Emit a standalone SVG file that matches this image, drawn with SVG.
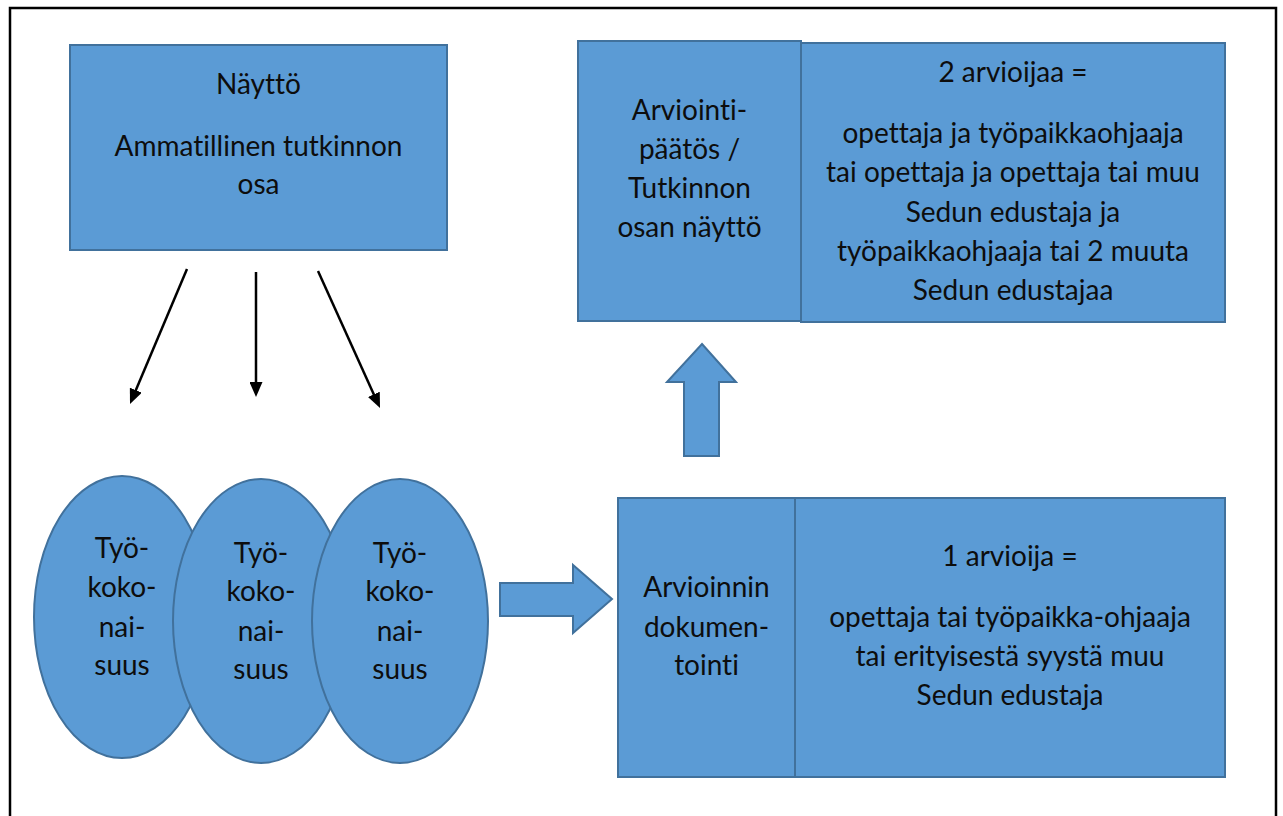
<svg xmlns="http://www.w3.org/2000/svg" width="1283" height="816" viewBox="0 0 1283 816">
<style>
.shape{fill:#5B9BD5;stroke:#41719C;stroke-width:2}
.t{font-family:Lato,"Liberation Sans",sans-serif;font-size:28px;fill:#0d0d0d;text-anchor:middle;font-variant-ligatures:none;font-feature-settings:"liga" 0}
.conn{stroke:#000;stroke-width:2.5;fill:none}
</style>
<defs>
<marker id="ah" viewBox="0 0 15 13" refX="5" refY="6.5" markerWidth="15" markerHeight="13" markerUnits="userSpaceOnUse" orient="auto">
<path d="M0,0 L15,6.5 L0,13 z" fill="#000"/>
</marker>
</defs>
<rect x="0" y="0" width="1283" height="816" fill="#fff"/>
<rect x="10" y="8" width="1266" height="830" fill="none" stroke="#000" stroke-width="2.5"/>

<g id="naytto">
<rect class="shape" x="70" y="45" width="377" height="205"/>
<text class="t" x="258.5" y="94">Näyttö</text>
<text class="t" x="258.5" y="156">Ammatillinen tutkinnon</text>
<text class="t" x="258.5" y="194">osa</text>
</g>

<g id="tyokokonaisuus1">
<ellipse class="shape" cx="122" cy="617" rx="88" ry="141"/>
<text class="t" x="122" y="558">Työ-</text>
<text class="t" x="122" y="597">koko-</text>
<text class="t" x="122" y="637">nai-</text>
<text class="t" x="122" y="675">suus</text>
</g>
<g id="tyokokonaisuus2">
<ellipse class="shape" cx="261" cy="621" rx="88" ry="142"/>
<text class="t" x="261" y="563">Työ-</text>
<text class="t" x="261" y="601">koko-</text>
<text class="t" x="261" y="641">nai-</text>
<text class="t" x="261" y="679">suus</text>
</g>
<g id="tyokokonaisuus3">
<ellipse class="shape" cx="400" cy="621" rx="88" ry="142"/>
<text class="t" x="400" y="563">Työ-</text>
<text class="t" x="400" y="601">koko-</text>
<text class="t" x="400" y="641">nai-</text>
<text class="t" x="400" y="679">suus</text>
</g>

<g id="arviointipaatos">
<rect class="shape" x="578" y="41" width="223" height="280"/>
<text class="t" x="689.5" y="120">Arviointi-</text>
<text class="t" x="689.5" y="159">päätös /</text>
<text class="t" x="689.5" y="198">Tutkinnon</text>
<text class="t" x="689.5" y="237">osan näyttö</text>
</g>
<g id="kaksi-arvioijaa">
<rect class="shape" x="801" y="43" width="424" height="279"/>
<text class="t" x="1013" y="82">2 arvioijaa =</text>
<text class="t" x="1013" y="143">opettaja ja työpaikkaohjaaja</text>
<text class="t" x="1013" y="182">tai opettaja ja opettaja tai muu</text>
<text class="t" x="1013" y="222">Sedun edustaja ja</text>
<text class="t" x="1013" y="261">työpaikkaohjaaja tai 2 muuta</text>
<text class="t" x="1013" y="300">Sedun edustajaa</text>
</g>

<g id="dokumentointi">
<rect class="shape" x="618" y="498" width="177" height="279"/>
<text class="t" x="706.5" y="597">Arvioinnin</text>
<text class="t" x="706.5" y="637">dokumen-</text>
<text class="t" x="706.5" y="675">tointi</text>
</g>
<g id="yksi-arvioija">
<rect class="shape" x="795" y="498" width="430" height="279"/>
<text class="t" x="1010" y="566">1 arvioija =</text>
<text class="t" x="1010" y="627">opettaja tai työpaikka-ohjaaja</text>
<text class="t" x="1010" y="666">tai erityisestä syystä muu</text>
<text class="t" x="1010" y="705">Sedun edustaja</text>
</g>

<g id="connectors">
<line class="conn" x1="187" y1="269" x2="133.9" y2="394.8" marker-end="url(#ah)"/>
<line class="conn" x1="256" y1="272" x2="256" y2="387" marker-end="url(#ah)"/>
<line class="conn" x1="318" y1="271" x2="375.9" y2="398.9" marker-end="url(#ah)"/>
<polygon class="shape" points="500,583 573,583 573,565 612,599 573,633 573,616 500,616"/>
<polygon class="shape" points="702,344 736,382 719,382 719,456 684,456 684,382 667,382"/>
</g>
</svg>
